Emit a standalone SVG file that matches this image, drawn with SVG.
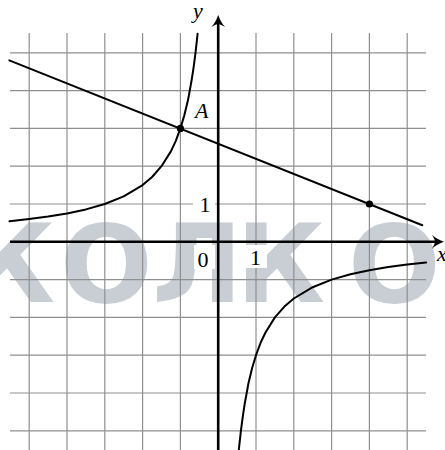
<svg xmlns="http://www.w3.org/2000/svg" width="445" height="450" viewBox="0 0 445 450">
<style>
.grid line{stroke:#8f8f8f;stroke-width:1.2}
.axis{stroke:#000;stroke-width:2.6;fill:none}
.curve{stroke:#000;stroke-width:2;fill:none;stroke-linejoin:round;stroke-linecap:round}
.lbl{font-family:"Liberation Serif","DejaVu Serif",serif;font-size:22px;fill:#000}
.it{font-style:italic}
.wm{font-family:"DejaVu Sans",sans-serif;font-weight:bold;font-size:109px;fill:#c8ced3}
.box{fill:#fff}
</style>
<rect x="0" y="0" width="445" height="450" fill="#fff"/>
<g id="watermark">
<text class="wm" x="-34 60 152 236 348" y="302">КОЛКО</text>
</g>
<g id="grid" class="grid">
<line x1="29.2" y1="33" x2="29.2" y2="450"/>
<line x1="67" y1="33" x2="67" y2="450"/>
<line x1="104.8" y1="33" x2="104.8" y2="450"/>
<line x1="142.6" y1="33" x2="142.6" y2="450"/>
<line x1="180.4" y1="33" x2="180.4" y2="450"/>
<line x1="256" y1="33" x2="256" y2="450"/>
<line x1="293.8" y1="33" x2="293.8" y2="450"/>
<line x1="331.6" y1="33" x2="331.6" y2="450"/>
<line x1="369.4" y1="33" x2="369.4" y2="450"/>
<line x1="407.2" y1="33" x2="407.2" y2="450"/>
<line x1="10" y1="52.8" x2="426" y2="52.8"/>
<line x1="10" y1="90.6" x2="426" y2="90.6"/>
<line x1="10" y1="128.4" x2="426" y2="128.4"/>
<line x1="10" y1="166.2" x2="426" y2="166.2"/>
<line x1="10" y1="204" x2="426" y2="204"/>
<line x1="10" y1="279.6" x2="426" y2="279.6"/>
<line x1="10" y1="317.4" x2="426" y2="317.4"/>
<line x1="10" y1="355.2" x2="426" y2="355.2"/>
<line x1="10" y1="393" x2="426" y2="393"/>
<line x1="10" y1="430.8" x2="426" y2="430.8"/>
</g>
<g id="label-boxes">
<rect class="box" x="193" y="193" width="22" height="23"/>
<rect class="box" x="194" y="245" width="21" height="24"/>
<rect class="box" x="245" y="245" width="22" height="23"/>
</g>
<g id="axes">
<line class="axis" x1="10" y1="241.8" x2="439" y2="241.8"/>
<path d="M444,241.8 Q436,239 432,234.8 Q435,240 435,241.8 Q435,243.6 432,248.8 Q436,244.6 444,241.8 Z" fill="#000"/>
<line class="axis" x1="218.2" y1="450" x2="218.2" y2="20"/>
<path d="M218.2,15 Q215.4,23 211.2,27 Q216.4,24 218.2,24 Q220,24 225.2,27 Q221,23 218.2,15 Z" fill="#000"/>
</g>
<g id="graphs">
<polyline id="line" class="curve" points="9.3,60.4 422.3,225.2"/>
<polyline id="hyperbola-left" class="curve" points="9.5,221.3 29.2,219.1 48.1,216.6 67,213.5 85.9,209.4 104.8,204 123.7,196.4 142.6,185.1 152.1,177 161.5,166.2 171,151.1 175.7,141.1 180.4,128.4 184.2,115.8 188,100.1 191.7,79.8 193.6,67.3 195.5,52.8 197.4,35.6 197.6,33.7"/>
<polyline id="hyperbola-right" class="curve" points="238.8,449.9 239,448 240.9,430.8 242.8,416.3 244.7,403.8 248.4,383.6 252.2,367.8 256,355.2 260.7,342.5 265.5,332.5 274.9,317.4 284.4,306.6 293.8,298.5 312.7,287.2 331.6,279.6 350.5,274.2 369.4,270.2 388.3,267 407.2,264.5 426.1,262.4"/>
</g>
<g id="points">
<circle id="point-A" cx="180.4" cy="128.4" r="3.6" fill="#000"/>
<circle id="point-B" cx="369.4" cy="204" r="3.6" fill="#000"/>
</g>
<g id="labels">
<text class="lbl it" x="193" y="18">y</text>
<text class="lbl it" x="195" y="118">A</text>
<text class="lbl" x="205" y="211.7" text-anchor="middle">1</text>
<text class="lbl" x="203" y="266.5" text-anchor="middle">0</text>
<text class="lbl" x="255.5" y="265" text-anchor="middle">1</text>
<text class="lbl it" x="437" y="261">x</text>
</g>
</svg>
